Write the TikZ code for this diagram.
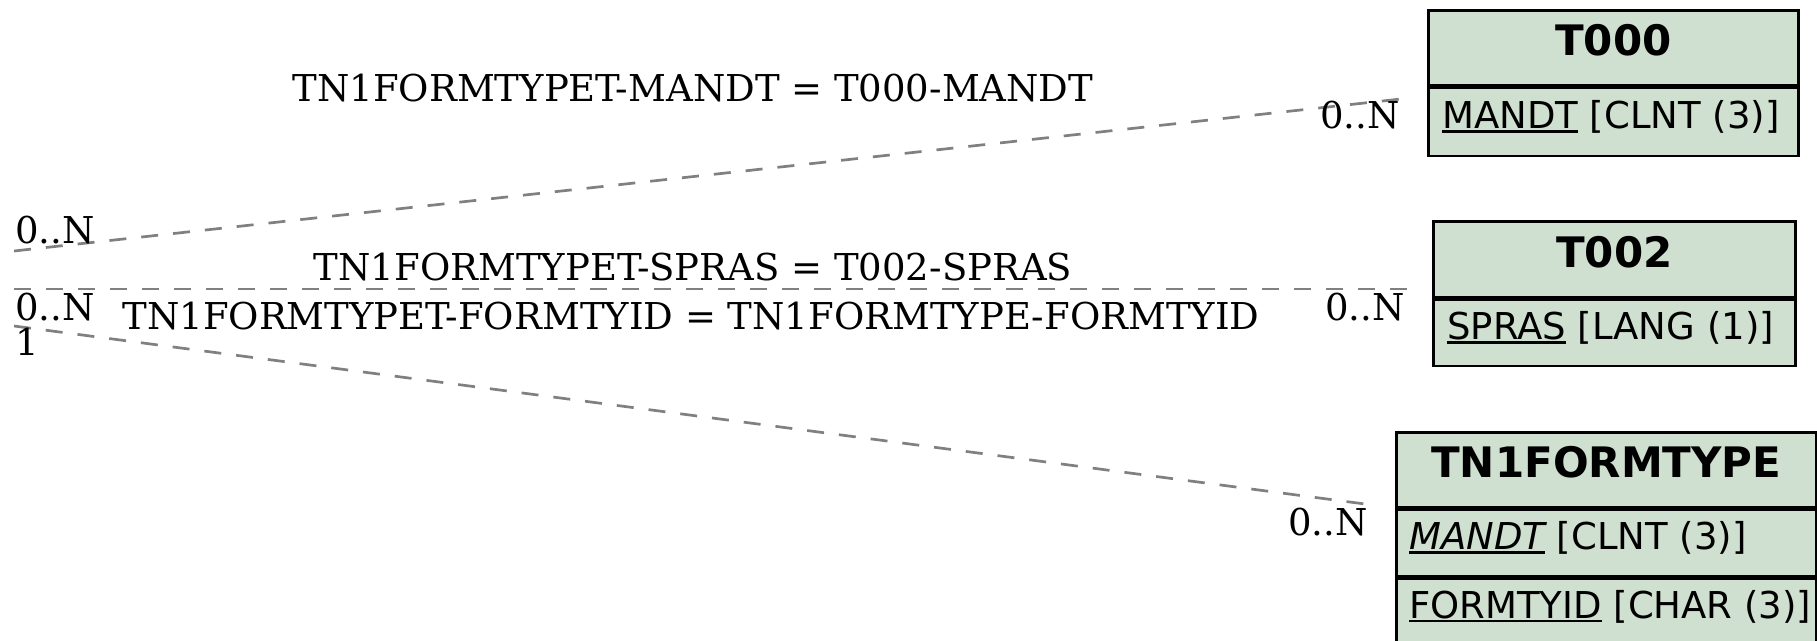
\documentclass[tikz,border=0pt]{standalone}
\usepackage{fontspec}
\newfontfamily\boxfont{DejaVu Sans}
\newfontfamily\relfont{DejaVu Serif}
\definecolor{tblfill}{RGB}{208,224,208}
\definecolor{relgray}{RGB}{128,128,128}
% key fields: thick underline
\newcommand\keyfld[1]{\setbox0\hbox{#1}\rlap{\rule[-4pt]{\wd0}{2.5pt}}\box0\relax}

\begin{document}
\begin{tikzpicture}[x=1pt,y=-1pt,
    tbl/.style={draw=black, line width=2.7pt, fill=tblfill, minimum width=#1,
      inner sep=0, anchor=north west},
    hdr/.style={font=\boxfont\bfseries\fontsize{42}{42}\selectfont, inner sep=0,
      text height=31pt, text depth=15pt},
    fld/.style={font=\boxfont\fontsize{37}{37}\selectfont, inner sep=0, anchor=west,
      text height=27pt, text depth=14pt},
    rel/.style={draw=relgray, line width=2.7pt, dash pattern=on 17pt off 15pt},
    card/.style={font=\relfont\fontsize{37}{37}\selectfont, inner sep=0}]
   \useasboundingbox (0,0) rectangle (1817,640);

   % tables
   \node[tbl=370, minimum height=75] (t000) at (1427,9) {};
   \node[hdr] (t000n) at (t000) {T000};
   \node[tbl=370, minimum height=68] (t000a) at (t000.south west) {};
   \node[fld] (t000m) at ([xshift=15]t000a.west) {\keyfld{MANDT} [CLNT (3)]};

   \node[tbl=362, minimum height=76] (t002) at (1432,220) {};
   \node[hdr] (t002n) at (t002) {T002};
   \node[tbl=362, minimum height=66] (t002a) at (t002.south west) {};
   \node[fld] (t002s) at ([xshift=15]t002a.west) {\keyfld{SPRAS} [LANG (1)]};

   \node[tbl=420, minimum height=75] (ftype) at (1395,431) {};
   \node[hdr] (ftypen) at (ftype) {TN1FORMTYPE};
   \node[tbl=420, minimum height=66] (ftypea) at (ftype.south west) {};
   \node[fld] (ftypem) at ([xshift=14]ftypea.west) {\keyfld{\itshape MANDT} [CLNT (3)]};
   \node[tbl=420, minimum height=66] (ftypeb) at (ftypea.south west) {};
   \node[fld] (ftypef) at ([xshift=14]ftypeb.west) {\keyfld{FORMTYID} [CHAR (3)]};

   % relation ends
   \coordinate (r1a) at (14,251);
   \coordinate (r1b) at (1410,98);
   \coordinate (r2a) at (14,289);
   \coordinate (r2b) at (1410,289);
   \coordinate (r3a) at (14,326);
   \coordinate (r3b) at (1365,504);

   \draw[rel] (r1a) -- (r1b);
   \draw[rel] (r2a) -- (r2b);
   \draw[rel] (r3a) -- (r3b);

   \node[card, anchor=base] (l1) at (693,101) {TN1FORMTYPET-MANDT = T000-MANDT};
   \node[card, anchor=base] (l2) at (693,280) {TN1FORMTYPET-SPRAS = T002-SPRAS};
   \node[card, anchor=base] (l3) at (691,329) {TN1FORMTYPET-FORMTYID = TN1FORMTYPE-FORMTYID};

   \node[card, anchor=base west] (c1a) at (15,243) {0..N};
   \node[card, anchor=base east] (c1b) at (1400,128) {0..N};
   \node[card, anchor=base west] (c2a) at (15,320) {0..N};
   \node[card, anchor=base east] (c2b) at (1405,320) {0..N};
   \node[card, anchor=base west] (c3a) at (15,355) {1};
   \node[card, anchor=base east] (c3b) at (1368,535) {0..N};
\end{tikzpicture}
\end{document}
